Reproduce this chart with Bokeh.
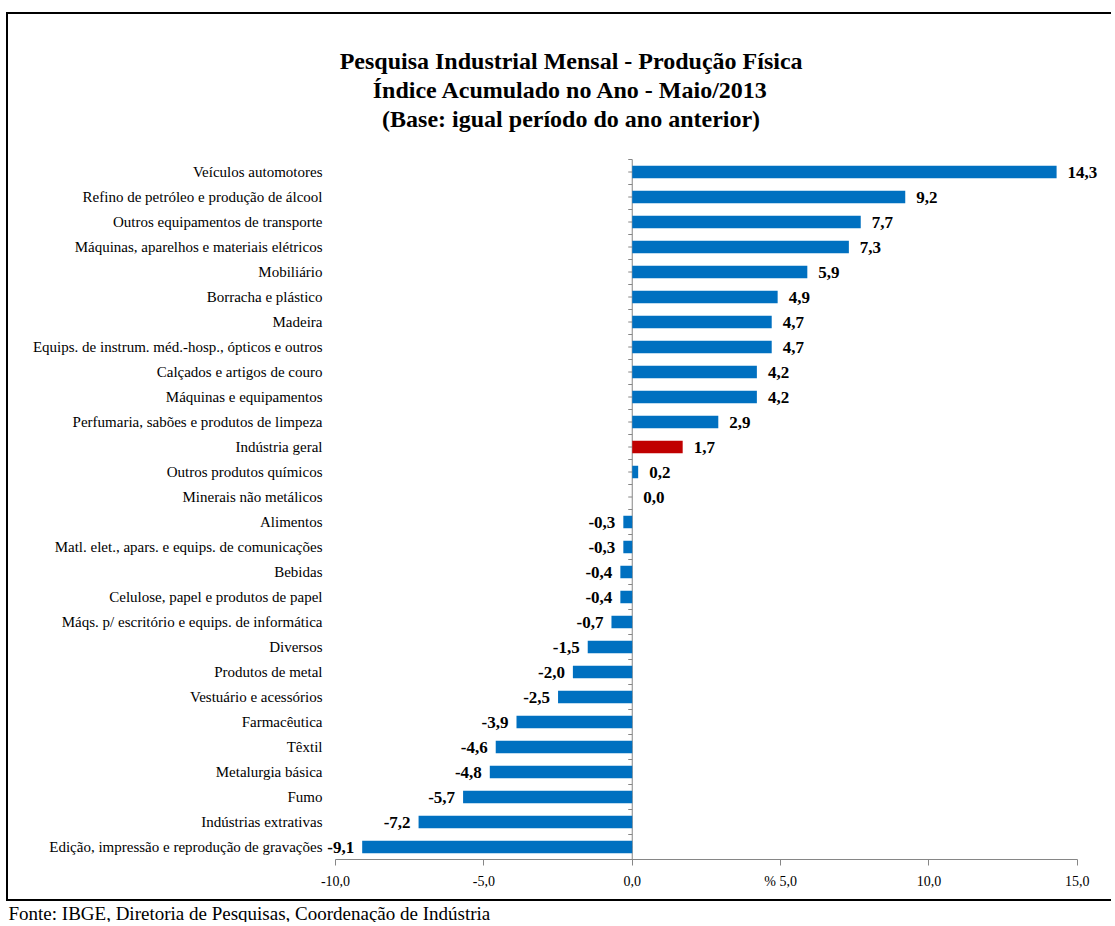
from bokeh.plotting import figure
from bokeh.models import Range1d, FixedTicker, ColumnDataSource
from bokeh.core.properties import value
from bokeh.embed import file_html
from bokeh.resources import INLINE

# ---------------- data ----------------
categories = [
    "Veículos automotores",
    "Refino de petróleo e produção de álcool",
    "Outros equipamentos de transporte",
    "Máquinas, aparelhos e materiais elétricos",
    "Mobiliário",
    "Borracha e plástico",
    "Madeira",
    "Equips. de instrum. méd.-hosp., ópticos e outros",
    "Calçados e artigos de couro",
    "Máquinas e equipamentos",
    "Perfumaria, sabões e produtos de limpeza",
    "Indústria geral",
    "Outros produtos químicos",
    "Minerais não metálicos",
    "Alimentos",
    "Matl. elet., apars. e equips. de comunicações",
    "Bebidas",
    "Celulose, papel e produtos de papel",
    "Máqs. p/ escritório e equips. de informática",
    "Diversos",
    "Produtos de metal",
    "Vestuário e acessórios",
    "Farmacêutica",
    "Têxtil",
    "Metalurgia básica",
    "Fumo",
    "Indústrias extrativas",
    "Edição, impressão e reprodução de gravações",
]
values = [14.3, 9.2, 7.7, 7.3, 5.9, 4.9, 4.7, 4.7, 4.2, 4.2, 2.9, 1.7, 0.2, 0.0,
          -0.3, -0.3, -0.4, -0.4, -0.7, -1.5, -2.0, -2.5, -3.9, -4.6, -4.8, -5.7,
          -7.2, -9.1]
highlight = "Indústria geral"
title_lines = [
    "Pesquisa Industrial Mensal - Produção Física",
    "Índice Acumulado no Ano - Maio/2013",
    "(Base: igual período do ano anterior)",
]
source_note = "Fonte: IBGE, Diretoria de Pesquisas, Coordenação de Indústria"
x_ticks = [-10, -5, 0, 5, 10, 15]
x_tick_labels = ["-10,0", "-5,0", "0,0", "% 5,0", "10,0", "15,0"]

# ---------------- derived ----------------
n = len(categories)
ypos = [n - 1 - i for i in range(n)]
colors = ["#C00000" if c == highlight else "#0070C0" for c in categories]
labels = [f"{v:.1f}".replace(".", ",") for v in values]
offsets = [11 if v >= 0 else -8 for v in values]
aligns = ["left" if v >= 0 else "right" for v in values]

src = ColumnDataSource(dict(y=ypos, v=values, color=colors, label=labels,
                            off=offsets, align=aligns))

SERIF = "Liberation Serif"
GRAY = "#868686"
BORDER = "2px solid black"

# head room above the bars (in category units) that holds the title block
HEAD = 5.16
top = n - 0.5          # upper edge of the first category band

p = figure(width=1105, height=889, output_backend="svg", toolbar_location=None,
           x_range=Range1d(-10.37, 16.15), y_range=Range1d(-0.5, top + HEAD),
           min_border_left=316, min_border_right=2, min_border_top=16,
           min_border_bottom=44, margin=(12, 0, 0, 6),
           styles={"border-top": BORDER, "border-left": BORDER,
                   "border-bottom": BORDER, "border-right": "0px none",
                   "overflow": "hidden"})
p.outline_line_color = None
p.grid.visible = False
p.background_fill_color = "white"
p.border_fill_color = "white"

# x axis
xa = p.xaxis[0]
xa.ticker = FixedTicker(ticks=x_ticks)
xa.bounds = (x_ticks[0], x_ticks[-1])
xa.major_label_overrides = {float(t): l for t, l in zip(x_ticks, x_tick_labels)}
xa.axis_line_color = GRAY
xa.major_tick_line_color = GRAY
xa.major_tick_out = 6
xa.major_tick_in = 0
xa.minor_tick_line_color = None
xa.major_label_standoff = 8
xa.major_label_text_font = SERIF
xa.major_label_text_font_size = "14px"
xa.major_label_text_color = "black"

# y axis (category names)
ya = p.yaxis[0]
ya.ticker = FixedTicker(ticks=ypos)
ya.major_label_overrides = {float(y): c for y, c in zip(ypos, categories)}
ya.axis_line_color = None
ya.major_tick_line_color = None
ya.major_tick_in = 0
ya.major_tick_out = 0
ya.minor_tick_line_color = None
ya.major_label_standoff = 2
ya.major_label_text_font = SERIF
ya.major_label_text_font_size = "15px"
ya.major_label_text_color = "black"

# vertical zero line (category axis crossing at 0) with small ticks
p.segment(x0=[0], y0=[-0.5], x1=[0], y1=[top], line_color=GRAY, line_width=1)
tick_y = [k * 0.5 - 0.5 for k in range(2 * n + 1)]
p.ray(x=[0] * len(tick_y), y=tick_y, length=4, length_units="screen",
      angle=3.14159265, line_color=GRAY, line_width=1)

# bars
p.hbar(y="y", left=0, right="v", height=0.5, source=src,
       fill_color="color", line_color=None)

# value labels
p.text(x="v", y="y", text="label", x_offset="off", text_align="align",
       text_baseline="middle", text_font=value(SERIF), text_font_style="bold",
       text_font_size="17px", text_color="black", source=src)

# title block (three centred lines in the head room)
title_y = [top + 3.96, top + 2.80, top + 1.64]
p.text(x=[-2.06] * 3, y=title_y, text=title_lines, text_align="center",
       text_baseline="middle", text_font=value(SERIF), text_font_style="bold",
       text_font_size="24px", text_color="black")

# footnote below the framed chart (a second root on the same page)
foot = figure(width=1115, height=21, output_backend="svg", toolbar_location=None,
              x_range=Range1d(0, 1), y_range=Range1d(0, 1), min_border=0)
foot.axis.visible = False
foot.grid.visible = False
foot.outline_line_color = None
foot.text(x=[0], y=[0.5], text=[source_note], x_offset=8, y_offset=1,
          text_align="left", text_baseline="middle", text_font=value(SERIF),
          text_font_size="19px", text_color="black")

open("out.html", "w").write(file_html([p, foot], INLINE))
